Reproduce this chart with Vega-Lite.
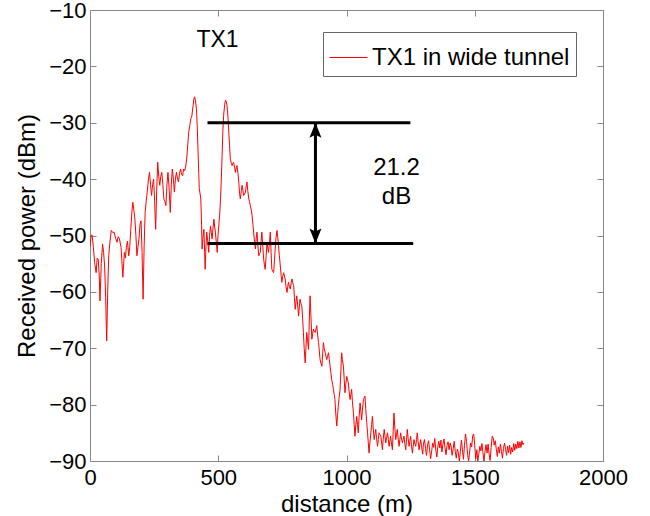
{
  "$schema": "https://vega.github.io/schema/vega-lite/v6.json",
  "width": 513,
  "height": 451,
  "autosize": {"type": "none"},
  "padding": {"left": 90, "top": 10, "right": 47, "bottom": 55},
  "background": "white",
  "config": {
    "view": {"stroke": "#888888", "strokeWidth": 1},
    "font": "Liberation Sans",
    "axis": {
      "grid": false,
      "domain": false,
      "tickColor": "#888888",
      "tickSize": -6,
      "labelFont": "Liberation Sans",
      "labelFontSize": 22,
      "labelColor": "#000000",
      "titleFont": "Liberation Sans",
      "titleFontSize": 24,
      "titleFontWeight": "normal",
      "titleColor": "#000000",
      "labelFlush": false,
      "labelOverlap": false,
      "labelBound": false
    }
  },
  "datasets": {
    "signal": [
{"distance":0,"power":-52},{"distance":4,"power":-50},{"distance":8,"power":-49.9},{"distance":13,"power":-52},{"distance":18,"power":-54.8},{"distance":24,"power":-56.6},{"distance":28,"power":-54},{"distance":32,"power":-54.2},{"distance":36,"power":-57},{"distance":39,"power":-61.6},{"distance":44,"power":-55},{"distance":49,"power":-51.5},{"distance":53,"power":-53},{"distance":57,"power":-55.4},{"distance":61,"power":-61},{"distance":65,"power":-68.7},{"distance":69,"power":-60},{"distance":73,"power":-53.6},{"distance":78,"power":-51},{"distance":83,"power":-49.1},{"distance":89,"power":-49.5},{"distance":94,"power":-49.4},{"distance":100,"power":-50.5},{"distance":105,"power":-51.2},{"distance":110,"power":-50.2},{"distance":115,"power":-50.6},{"distance":121,"power":-52.1},{"distance":128,"power":-57.4},{"distance":134,"power":-53},{"distance":138,"power":-54},{"distance":142,"power":-52.1},{"distance":146,"power":-51},{"distance":151,"power":-53.6},{"distance":155,"power":-52},{"distance":159,"power":-48.9},{"distance":163,"power":-46},{"distance":167,"power":-44.1},{"distance":171,"power":-45.5},{"distance":175,"power":-47.1},{"distance":179,"power":-50},{"distance":183,"power":-53.6},{"distance":187,"power":-52},{"distance":191,"power":-50.6},{"distance":195,"power":-48},{"distance":199,"power":-47.4},{"distance":203,"power":-53},{"distance":207,"power":-61.3},{"distance":211,"power":-52},{"distance":215,"power":-45.9},{"distance":219,"power":-44},{"distance":223,"power":-42.3},{"distance":228,"power":-40},{"distance":232,"power":-38.8},{"distance":236,"power":-41},{"distance":240,"power":-42.9},{"distance":244,"power":-41},{"distance":248,"power":-40},{"distance":252,"power":-44},{"distance":256,"power":-48.9},{"distance":260,"power":-42},{"distance":264,"power":-37},{"distance":268,"power":-39.5},{"distance":272,"power":-41.1},{"distance":276,"power":-39.5},{"distance":280,"power":-38.8},{"distance":284,"power":-41},{"distance":288,"power":-43.5},{"distance":292,"power":-44},{"distance":296,"power":-44.7},{"distance":300,"power":-41},{"distance":304,"power":-38.8},{"distance":309,"power":-42},{"distance":313,"power":-45.9},{"distance":317,"power":-41},{"distance":321,"power":-38.2},{"distance":325,"power":-40},{"distance":329,"power":-42.3},{"distance":333,"power":-40},{"distance":337,"power":-38.8},{"distance":341,"power":-39.8},{"distance":345,"power":-40.5},{"distance":349,"power":-39},{"distance":353,"power":-38.2},{"distance":357,"power":-39.2},{"distance":361,"power":-39.4},{"distance":365,"power":-38.2},{"distance":369,"power":-38.5},{"distance":373,"power":-37.8},{"distance":377,"power":-36.4},{"distance":381,"power":-34},{"distance":385,"power":-31.6},{"distance":389,"power":-30.5},{"distance":393,"power":-29.3},{"distance":397,"power":-28.8},{"distance":402,"power":-26.9},{"distance":405,"power":-25.8},{"distance":408,"power":-25.4},{"distance":411,"power":-26},{"distance":415,"power":-27.5},{"distance":418,"power":-30.5},{"distance":421,"power":-34.6},{"distance":424,"power":-39},{"distance":426,"power":-41.7},{"distance":429,"power":-42.5},{"distance":432,"power":-43.5},{"distance":435,"power":-48},{"distance":437,"power":-52.4},{"distance":440,"power":-50.5},{"distance":444,"power":-48.9},{"distance":447,"power":-53},{"distance":449,"power":-56},{"distance":452,"power":-52},{"distance":455,"power":-49.4},{"distance":459,"power":-51},{"distance":463,"power":-53},{"distance":466,"power":-50},{"distance":470,"power":-48.3},{"distance":473,"power":-49.5},{"distance":476,"power":-50.6},{"distance":480,"power":-48.5},{"distance":483,"power":-47.1},{"distance":486,"power":-48.5},{"distance":489,"power":-49.4},{"distance":492,"power":-51},{"distance":496,"power":-53},{"distance":499,"power":-50},{"distance":502,"power":-48.3},{"distance":506,"power":-46},{"distance":509,"power":-43.5},{"distance":512,"power":-40},{"distance":515,"power":-35.8},{"distance":518,"power":-31.5},{"distance":521,"power":-28.7},{"distance":525,"power":-26.8},{"distance":528,"power":-26},{"distance":531,"power":-26.2},{"distance":534,"power":-26.9},{"distance":538,"power":-29},{"distance":541,"power":-31.6},{"distance":544,"power":-34},{"distance":547,"power":-36.4},{"distance":551,"power":-37.2},{"distance":554,"power":-37.6},{"distance":557,"power":-37.2},{"distance":560,"power":-37},{"distance":564,"power":-38},{"distance":567,"power":-38.8},{"distance":570,"power":-38},{"distance":573,"power":-37.6},{"distance":577,"power":-39},{"distance":580,"power":-40.5},{"distance":583,"power":-42.5},{"distance":586,"power":-43.5},{"distance":590,"power":-42},{"distance":593,"power":-41.1},{"distance":596,"power":-42},{"distance":599,"power":-42.9},{"distance":603,"power":-42.6},{"distance":606,"power":-42.3},{"distance":609,"power":-41.2},{"distance":612,"power":-40.5},{"distance":615,"power":-42},{"distance":619,"power":-43.5},{"distance":622,"power":-44},{"distance":625,"power":-44.7},{"distance":629,"power":-45.5},{"distance":632,"power":-46.5},{"distance":635,"power":-48},{"distance":638,"power":-49.4},{"distance":641,"power":-51},{"distance":645,"power":-52.4},{"distance":648,"power":-50.5},{"distance":651,"power":-49.4},{"distance":654,"power":-51.5},{"distance":658,"power":-53.6},{"distance":661,"power":-53.2},{"distance":664,"power":-53},{"distance":667,"power":-51},{"distance":670,"power":-49.4},{"distance":674,"power":-52},{"distance":677,"power":-54.2},{"distance":680,"power":-55.2},{"distance":683,"power":-56},{"distance":687,"power":-53.5},{"distance":690,"power":-51.2},{"distance":693,"power":-52.2},{"distance":696,"power":-53},{"distance":700,"power":-51},{"distance":703,"power":-49.4},{"distance":706,"power":-53},{"distance":709,"power":-56},{"distance":713,"power":-56.4},{"distance":716,"power":-56.6},{"distance":719,"power":-54.5},{"distance":722,"power":-52.4},{"distance":725,"power":-50.5},{"distance":729,"power":-49.1},{"distance":732,"power":-50.4},{"distance":735,"power":-51.8},{"distance":738,"power":-53.5},{"distance":742,"power":-55.4},{"distance":745,"power":-57},{"distance":748,"power":-58.3},{"distance":751,"power":-57.3},{"distance":755,"power":-56.6},{"distance":758,"power":-57.2},{"distance":761,"power":-57.7},{"distance":764,"power":-59},{"distance":768,"power":-60.1},{"distance":771,"power":-59},{"distance":774,"power":-58.3},{"distance":777,"power":-59},{"distance":781,"power":-59.5},{"distance":784,"power":-58.5},{"distance":787,"power":-57.7},{"distance":790,"power":-58.3},{"distance":794,"power":-58.9},{"distance":797,"power":-61},{"distance":800,"power":-63.1},{"distance":803,"power":-61.8},{"distance":806,"power":-60.7},{"distance":810,"power":-62.5},{"distance":813,"power":-64.3},{"distance":816,"power":-62.7},{"distance":819,"power":-61.3},{"distance":822,"power":-62},{"distance":826,"power":-62.5},{"distance":829,"power":-64.8},{"distance":832,"power":-67.2},{"distance":835,"power":-70},{"distance":839,"power":-72.6},{"distance":842,"power":-69.8},{"distance":845,"power":-67.2},{"distance":848,"power":-68.5},{"distance":852,"power":-70.2},{"distance":855,"power":-65},{"distance":858,"power":-60.7},{"distance":861,"power":-64},{"distance":865,"power":-68.4},{"distance":868,"power":-67.4},{"distance":871,"power":-66.6},{"distance":874,"power":-67},{"distance":878,"power":-67.2},{"distance":881,"power":-66.6},{"distance":884,"power":-66},{"distance":887,"power":-67.5},{"distance":891,"power":-69},{"distance":894,"power":-70.5},{"distance":897,"power":-72},{"distance":900,"power":-72.6},{"distance":904,"power":-73.2},{"distance":907,"power":-71},{"distance":910,"power":-69},{"distance":913,"power":-70},{"distance":917,"power":-70.8},{"distance":920,"power":-71.4},{"distance":923,"power":-72},{"distance":926,"power":-71.4},{"distance":930,"power":-70.8},{"distance":933,"power":-72},{"distance":936,"power":-73.2},{"distance":939,"power":-74.3},{"distance":942,"power":-75.5},{"distance":946,"power":-76.4},{"distance":949,"power":-77.3},{"distance":952,"power":-78.2},{"distance":955,"power":-79.1},{"distance":958,"power":-81.5},{"distance":962,"power":-83.8},{"distance":965,"power":-82},{"distance":968,"power":-80.3},{"distance":971,"power":-78.8},{"distance":975,"power":-77.3},{"distance":978,"power":-74},{"distance":981,"power":-70.8},{"distance":984,"power":-72},{"distance":988,"power":-73.2},{"distance":991,"power":-75.5},{"distance":994,"power":-77.9},{"distance":997,"power":-76.5},{"distance":1001,"power":-75},{"distance":1004,"power":-75.5},{"distance":1007,"power":-76.1},{"distance":1010,"power":-77.6},{"distance":1014,"power":-79.1},{"distance":1017,"power":-78.2},{"distance":1020,"power":-77.3},{"distance":1023,"power":-79.4},{"distance":1027,"power":-81.5},{"distance":1030,"power":-83.5},{"distance":1033,"power":-85.6},{"distance":1036,"power":-83.8},{"distance":1040,"power":-82.1},{"distance":1043,"power":-83.5},{"distance":1046,"power":-85},{"distance":1049,"power":-82.3},{"distance":1053,"power":-79.7},{"distance":1056,"power":-81.2},{"distance":1059,"power":-82.7},{"distance":1062,"power":-81},{"distance":1066,"power":-79.1},{"distance":1069,"power":-78.8},{"distance":1072,"power":-78.5},{"distance":1075,"power":-80.8},{"distance":1079,"power":-83.2},{"distance":1082,"power":-85},{"distance":1085,"power":-86.8},{"distance":1088,"power":-88.6},{"distance":1091,"power":-86.8},{"distance":1095,"power":-85},{"distance":1098,"power":-83.5},{"distance":1101,"power":-82.1},{"distance":1104,"power":-84.1},{"distance":1108,"power":-86.2},{"distance":1111,"power":-85.3},{"distance":1114,"power":-84.4},{"distance":1117,"power":-85.9},{"distance":1121,"power":-87.4},{"distance":1124,"power":-86.2},{"distance":1127,"power":-85},{"distance":1130,"power":-85.3},{"distance":1134,"power":-85.6},{"distance":1137,"power":-86.8},{"distance":1140,"power":-88},{"distance":1143,"power":-86.2},{"distance":1147,"power":-84.4},{"distance":1150,"power":-85.6},{"distance":1153,"power":-86.8},{"distance":1156,"power":-85.9},{"distance":1160,"power":-85},{"distance":1163,"power":-86.2},{"distance":1166,"power":-87.4},{"distance":1169,"power":-86.5},{"distance":1172,"power":-85.6},{"distance":1175,"power":-86.8},{"distance":1179,"power":-88},{"distance":1182,"power":-84.7},{"distance":1185,"power":-81.5},{"distance":1188,"power":-83.8},{"distance":1192,"power":-86.2},{"distance":1195,"power":-85.3},{"distance":1198,"power":-84.4},{"distance":1201,"power":-85.9},{"distance":1205,"power":-87.4},{"distance":1208,"power":-86.2},{"distance":1211,"power":-85},{"distance":1214,"power":-85.9},{"distance":1218,"power":-86.8},{"distance":1221,"power":-86.2},{"distance":1224,"power":-85.6},{"distance":1227,"power":-86.8},{"distance":1231,"power":-88},{"distance":1234,"power":-86.2},{"distance":1237,"power":-84.4},{"distance":1240,"power":-85.9},{"distance":1244,"power":-87.4},{"distance":1247,"power":-86.5},{"distance":1250,"power":-85.6},{"distance":1253,"power":-87.1},{"distance":1257,"power":-88.6},{"distance":1260,"power":-87.4},{"distance":1263,"power":-86.2},{"distance":1266,"power":-86.8},{"distance":1270,"power":-87.4},{"distance":1273,"power":-86.2},{"distance":1276,"power":-85},{"distance":1279,"power":-86.5},{"distance":1283,"power":-88},{"distance":1286,"power":-87.1},{"distance":1289,"power":-86.2},{"distance":1293,"power":-87.5},{"distance":1297,"power":-88.8},{"distance":1300,"power":-87},{"distance":1304,"power":-86.2},{"distance":1308,"power":-87.8},{"distance":1312,"power":-89},{"distance":1316,"power":-87.2},{"distance":1320,"power":-86.4},{"distance":1324,"power":-88},{"distance":1328,"power":-89.6},{"distance":1332,"power":-88.2},{"distance":1336,"power":-86.8},{"distance":1340,"power":-87.6},{"distance":1344,"power":-86},{"distance":1348,"power":-87.9},{"distance":1352,"power":-89.3},{"distance":1356,"power":-87.5},{"distance":1360,"power":-86.5},{"distance":1364,"power":-87.7},{"distance":1368,"power":-86.3},{"distance":1372,"power":-88.4},{"distance":1376,"power":-87},{"distance":1380,"power":-86.1},{"distance":1384,"power":-87.6},{"distance":1388,"power":-88.9},{"distance":1392,"power":-87.2},{"distance":1396,"power":-86.6},{"distance":1400,"power":-88},{"distance":1404,"power":-86.8},{"distance":1408,"power":-87.5},{"distance":1412,"power":-89},{"distance":1416,"power":-87.8},{"distance":1420,"power":-86.5},{"distance":1424,"power":-88.3},{"distance":1428,"power":-89.5},{"distance":1432,"power":-87.9},{"distance":1436,"power":-88.5},{"distance":1440,"power":-90},{"distance":1444,"power":-88.2},{"distance":1448,"power":-86.3},{"distance":1452,"power":-88},{"distance":1456,"power":-89.7},{"distance":1460,"power":-87.2},{"distance":1464,"power":-85.2},{"distance":1468,"power":-86.5},{"distance":1472,"power":-88.8},{"distance":1476,"power":-90},{"distance":1480,"power":-88.4},{"distance":1484,"power":-86.8},{"distance":1488,"power":-87.5},{"distance":1492,"power":-85.5},{"distance":1496,"power":-85.2},{"distance":1500,"power":-87.3},{"distance":1504,"power":-89.6},{"distance":1508,"power":-88},{"distance":1512,"power":-90},{"distance":1516,"power":-88.7},{"distance":1520,"power":-87.4},{"distance":1524,"power":-88.2},{"distance":1528,"power":-86.9},{"distance":1532,"power":-88.5},{"distance":1536,"power":-90},{"distance":1540,"power":-88.3},{"distance":1544,"power":-87.1},{"distance":1548,"power":-88.6},{"distance":1552,"power":-87},{"distance":1556,"power":-88.8},{"distance":1560,"power":-89.9},{"distance":1564,"power":-87.6},{"distance":1568,"power":-85.6},{"distance":1572,"power":-85.9},{"distance":1576,"power":-87.2},{"distance":1580,"power":-86.4},{"distance":1584,"power":-87.9},{"distance":1588,"power":-89.2},{"distance":1592,"power":-87.5},{"distance":1596,"power":-88.6},{"distance":1600,"power":-87},{"distance":1604,"power":-88.3},{"distance":1608,"power":-89.5},{"distance":1612,"power":-87.8},{"distance":1616,"power":-86.8},{"distance":1620,"power":-87.9},{"distance":1624,"power":-89},{"distance":1628,"power":-87.4},{"distance":1632,"power":-88.5},{"distance":1636,"power":-87.2},{"distance":1640,"power":-88.8},{"distance":1644,"power":-87.6},{"distance":1648,"power":-88.4},{"distance":1652,"power":-86.9},{"distance":1656,"power":-88.1},{"distance":1660,"power":-87},{"distance":1664,"power":-87.8},{"distance":1668,"power":-86.5},{"distance":1672,"power":-87.7},{"distance":1676,"power":-86.6},{"distance":1680,"power":-87.6},{"distance":1684,"power":-86.4},{"distance":1688,"power":-87.1},{"distance":1692,"power":-86.8}
    ],
    "hlines": [
      {"start": 458, "end": 1249, "level": -30},
      {"start": 458, "end": 1260, "level": -51.4}
    ],
    "arrow": [{"at": 879, "top": -30, "bottom": -51.4}],
    "heads": [
      {"at": 879, "level": -31.33, "dir": "up"},
      {"at": 879, "level": -50.07, "dir": "down"}
    ],
    "labels": [
      {"at": 497, "level": -15.3, "text": "TX1", "size": 23},
      {"at": 1195, "level": -38.1, "text": "21.2", "size": 24},
      {"at": 1195, "level": -43.2, "text": "dB", "size": 24}
    ]
  },
  "layer": [
    {
      "data": {"name": "signal"},
      "mark": {"type": "line", "color": "#ff0000", "strokeWidth": 1, "interpolate": "linear", "clip": true},
      "transform": [{"calculate": "'TX1 in wide tunnel'", "as": "series"}],
      "encoding": {
        "x": {
          "field": "distance", "type": "quantitative",
          "scale": {"domain": [0, 2000], "nice": false, "zero": false},
          "axis": {"orient": "bottom", "values": [0, 500, 1000, 1500, 2000], "format": "d", "title": "distance (m)", "labelPadding": 12, "titlePadding": 4}
        },
        "y": {
          "field": "power", "type": "quantitative",
          "scale": {"domain": [-90, -10], "nice": false, "zero": false},
          "axis": {"orient": "left", "values": [-90, -80, -70, -60, -50, -40, -30, -20, -10], "format": "d", "title": "Received power (dBm)", "labelPadding": 10, "titlePadding": 9}
        },
        "color": {
          "field": "series", "type": "nominal",
          "scale": {"domain": ["TX1 in wide tunnel"], "range": ["#ff0000"]},
          "legend": {
            "title": null,
            "orient": "none",
            "legendX": 233,
            "legendY": 22,
            "symbolType": "stroke",
            "symbolSize": 1444,
            "symbolStrokeWidth": 1,
            "labelFontSize": 24,
            "labelFont": "Liberation Sans",
            "labelColor": "#000000",
            "labelLimit": 400,
            "labelOffset": 4,
            "padding": 6,
            "strokeColor": "#666666",
            "fillColor": "#ffffff"
          }
        }
      }
    },
    {
      "data": {"name": "hlines"},
      "mark": {"type": "rule", "color": "#000000", "strokeWidth": 3},
      "encoding": {
        "x": {"field": "start", "type": "quantitative", "axis": {"orient": "top", "values": [0, 500, 1000, 1500, 2000], "labels": false, "title": null}},
        "x2": {"field": "end"},
        "y": {"field": "level", "type": "quantitative", "axis": {"orient": "right", "values": [-90, -80, -70, -60, -50, -40, -30, -20, -10], "labels": false, "title": null}}
      }
    },
    {
      "data": {"name": "arrow"},
      "mark": {"type": "rule", "color": "#000000", "strokeWidth": 3},
      "encoding": {
        "x": {"field": "at", "type": "quantitative", "axis": null},
        "y": {"field": "top", "type": "quantitative", "axis": null},
        "y2": {"field": "bottom"}
      }
    },
    {
      "data": {"name": "heads"},
      "mark": {"type": "point", "filled": true, "color": "#000000", "opacity": 1, "size": 225},
      "encoding": {
        "x": {"field": "at", "type": "quantitative", "axis": null},
        "y": {"field": "level", "type": "quantitative", "axis": null},
        "shape": {
          "field": "dir", "type": "nominal", "legend": null,
          "scale": {"domain": ["up", "down"], "range": ["M0,-1L-0.8,1L0,0.6L0.8,1Z", "M0,1L-0.8,-1L0,-0.6L0.8,-1Z"]}
        }
      }
    },
    {
      "data": {"name": "labels"},
      "mark": {"type": "text", "color": "#000000", "font": "Liberation Sans", "align": "center", "baseline": "middle"},
      "encoding": {
        "x": {"field": "at", "type": "quantitative", "axis": null},
        "y": {"field": "level", "type": "quantitative", "axis": null},
        "text": {"field": "text"},
        "size": {"field": "size", "type": "quantitative", "scale": null, "legend": null}
      }
    }
  ],
  "resolve": {"axis": {"x": "independent", "y": "independent"}}
}
